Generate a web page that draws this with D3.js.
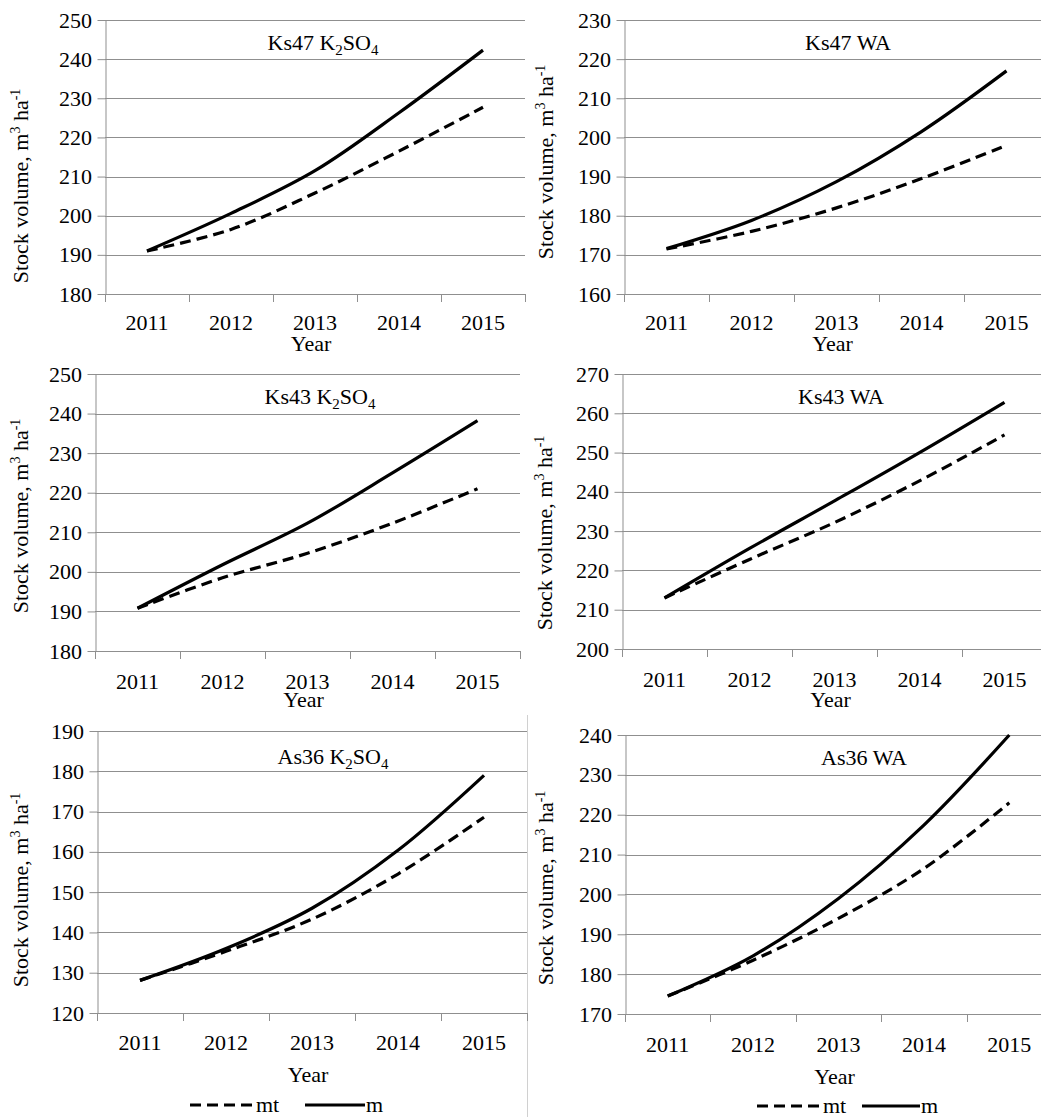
<!DOCTYPE html>
<html><head><meta charset="utf-8">
<script src="https://cdn.jsdelivr.net/npm/d3@7"></script>
<style>
body, svg, text, tspan { font-family: "Times New Roman", "Liberation Serif", Tinos, FreeSerif; }
</style>
</head>
<body style="margin:0;font-family:'Times New Roman','Liberation Serif'">
<svg id="chart" width="1041" height="1117" font-family="Times New Roman"></svg>
<script>
// ---- data ----
const years = ["2011","2012","2013","2014","2015"];
const seriesNames = ["mt","m"];

const ks47K2so4Mt = [191.0, 196.5, 205.8, 216.5, 227.7];
const ks47K2so4M  = [191.0, 200.6, 211.5, 226.3, 242.3];
const ks47WaMt    = [171.5, 176.0, 182.0, 189.5, 198.0];
const ks47WaM     = [171.6, 178.8, 188.7, 201.5, 217.0];
const ks43K2so4Mt = [190.8, 198.5, 204.7, 212.3, 221.0];
const ks43K2so4M  = [190.8, 201.8, 212.3, 225.0, 238.2];
const ks43WaMt    = [213.0, 222.8, 232.2, 242.8, 254.5];
const ks43WaM     = [213.0, 225.6, 237.7, 250.0, 262.8];
const as36K2so4Mt = [128.1, 135.3, 143.3, 154.5, 168.6];
const as36K2so4M  = [128.1, 136.0, 146.0, 160.4, 179.0];
const as36WaMt    = [174.5, 183.5, 194.0, 206.5, 223.0];
const as36WaM     = [174.5, 184.6, 199.0, 217.4, 240.0];

const ticksKs47K2so4 = [180,190,200,210,220,230,240,250];
const ticksKs47Wa    = [160,170,180,190,200,210,220,230];
const ticksKs43K2so4 = [180,190,200,210,220,230,240,250];
const ticksKs43Wa    = [200,210,220,230,240,250,260,270];
const ticksAs36K2so4 = [120,130,140,150,160,170,180,190];
const ticksAs36Wa    = [170,180,190,200,210,220,230,240];

const titleKs47K2so4 = [["Ks47 K",""],["2","sub"],["SO",""],["4","sub"]];
const titleKs47Wa    = [["Ks47 WA",""]];
const titleKs43K2so4 = [["Ks43 K",""],["2","sub"],["SO",""],["4","sub"]];
const titleKs43Wa    = [["Ks43 WA",""]];
const titleAs36K2so4 = [["As36 K",""],["2","sub"],["SO",""],["4","sub"]];
const titleAs36Wa    = [["As36 WA",""]];

const panels = [
  {title:titleKs47K2so4, ticks:ticksKs47K2so4, mt:ks47K2so4Mt, m:ks47K2so4M,
   L:105, R:525, T:20, B:294, tickY:330, yearY:351, titleX:323, titleY:50, ylabX:28, ylabY:186, legend:false},
  {title:titleKs47Wa, ticks:ticksKs47Wa, mt:ks47WaMt, m:ks47WaM,
   L:624, R:1049, T:20, B:294, tickY:330, yearY:351, titleX:848, titleY:50, ylabX:553, ylabY:162, legend:false},
  {title:titleKs43K2so4, ticks:ticksKs43K2so4, mt:ks43K2so4Mt, m:ks43K2so4M,
   L:95, R:520, T:374, B:651, tickY:689, yearY:707, titleX:320, titleY:404, ylabX:28, ylabY:516, legend:false},
  {title:titleKs43Wa, ticks:ticksKs43Wa, mt:ks43WaMt, m:ks43WaM,
   L:622, R:1047, T:374, B:649, tickY:687, yearY:707, titleX:841, titleY:404, ylabX:552, ylabY:533, legend:false},
  {title:titleAs36K2so4, ticks:ticksAs36K2so4, mt:as36K2so4Mt, m:as36K2so4M,
   L:97, R:527, T:731, B:1013, tickY:1050, yearY:1082, titleX:333, titleY:764, ylabX:28, ylabY:890, legend:true,
   legX1:190, legX2:255, legX3:305, legX4:365, legY:1112},
  {title:titleAs36Wa, ticks:ticksAs36Wa, mt:as36WaMt, m:as36WaM,
   L:625, R:1052, T:735, B:1014, tickY:1052, yearY:1084, titleX:864, titleY:765, ylabX:553, ylabY:888, legend:true,
   legX1:757, legX2:822, legX3:862, legX4:920, legY:1113}
];

const svg = d3.select("#chart");
const gridColor = "#8f8f8f";
const fontSize = 22;
const FONT = `"Times New Roman", "Liberation Serif"`;

function label(str, x, y, anchor, size) {
  const t = svg.append("text").style("font-family", FONT)
    .attr("font-family", "Times New Roman")
    .attr("x", x).attr("y", y).attr("font-size", size || fontSize).text(str);
  const w = t.node().getComputedTextLength();
  if (anchor === "middle") t.attr("x", x - w / 2);
  else if (anchor === "end") t.attr("x", x - w);
  return t;
}

svg.append("line").attr("x1",527.5).attr("x2",527.5).attr("y1",715).attr("y2",1117)
   .attr("stroke","#d0d0d0").attr("stroke-width",1);

panels.forEach(p => {
  const g = svg.append("g");
  const x = d3.scaleBand().domain(years).range([p.L, p.R]).padding(0);
  const y = d3.scaleLinear().domain([p.ticks[0], p.ticks[p.ticks.length-1]]).range([p.B, p.T]);

  g.append("g").selectAll("line").data(p.ticks.slice(1)).join("line")
    .attr("x1", p.L).attr("x2", p.R)
    .attr("y1", d => Math.round(y(d))+0.5).attr("y2", d => Math.round(y(d))+0.5)
    .attr("stroke", gridColor).attr("stroke-width",1);

  const ya = g.append("g").attr("transform",`translate(${Math.round(p.L)+0.5},0)`)
    .call(d3.axisLeft(y).tickValues(p.ticks).tickSize(8).tickSizeOuter(0).tickFormat(""));
  ya.attr("font-family", null);
  ya.select(".domain").attr("stroke",gridColor);
  ya.selectAll(".tick line").attr("stroke",gridColor);
  ya.selectAll(".tick text").remove();
  p.ticks.forEach(t => label(d3.format("d")(t), p.L - 13, y(t) + 7.5, "end"));

  g.append("line").attr("x1",p.L).attr("x2",p.R)
    .attr("y1",Math.round(p.B)+0.5).attr("y2",Math.round(p.B)+0.5).attr("stroke",gridColor);
  const bounds = years.map(d => x(d)).concat([p.R]);
  g.append("g").selectAll("line").data(bounds).join("line")
    .attr("x1", d => Math.round(d)+0.5).attr("x2", d => Math.round(d)+0.5)
    .attr("y1", p.B).attr("y2", p.B+8).attr("stroke",gridColor);
  years.forEach(yr => label(yr, x(yr)+x.bandwidth()/2, p.tickY, "middle"));

  label("Year", (p.L+p.R)/2 - 4, p.yearY, "middle");

  const yl = svg.append("text").style("font-family", FONT).attr("font-family","Times New Roman")
    .attr("x",0).attr("y",0).attr("font-size",fontSize);
  yl.append("tspan").text("Stock volume, m");
  yl.append("tspan").attr("font-size",14).attr("dy",-8).text("3");
  yl.append("tspan").attr("dy",8).text(" ha");
  yl.append("tspan").attr("font-size",14).attr("dy",-8).text("-1");
  const ylw = yl.node().getComputedTextLength();
  yl.attr("transform",`translate(${p.ylabX},${p.ylabY}) rotate(-90) translate(${-ylw/2},0)`);

  const tt = svg.append("text").style("font-family", FONT).attr("font-family","Times New Roman")
    .attr("x",0).attr("y",p.titleY).attr("font-size",fontSize);
  let shift = 0;
  p.title.forEach(([s,kind]) => {
    const ts = tt.append("tspan").text(s);
    if (kind === "sub") { ts.attr("font-size",15).attr("dy",5 - shift); shift = 5; }
    else { ts.attr("dy", -shift); shift = 0; }
  });
  tt.attr("x", p.titleX - tt.node().getComputedTextLength()/2);

  const line = d3.line()
    .x((d,i) => x(years[i]) + x.bandwidth()/2)
    .y(d => y(d))
    .curve(d3.curveCatmullRom.alpha(0.5));
  g.append("path").datum(p.mt).attr("d",line).attr("fill","none")
    .attr("stroke","#000").attr("stroke-width",3.2).attr("stroke-dasharray","11,6");
  g.append("path").datum(p.m).attr("d",line).attr("fill","none")
    .attr("stroke","#000").attr("stroke-width",3.2);

  if (p.legend) {
    svg.append("line").attr("x1",p.legX1).attr("x2",p.legX2).attr("y1",p.legY-7).attr("y2",p.legY-7)
      .attr("stroke","#000").attr("stroke-width",3.2).attr("stroke-dasharray","11,6");
    label(seriesNames[0], p.legX2+1, p.legY, "start");
    svg.append("line").attr("x1",p.legX3).attr("x2",p.legX4).attr("y1",p.legY-7).attr("y2",p.legY-7)
      .attr("stroke","#000").attr("stroke-width",3.2);
    label(seriesNames[1], p.legX4+1, p.legY, "start");
  }
});
</script>
</body></html>
